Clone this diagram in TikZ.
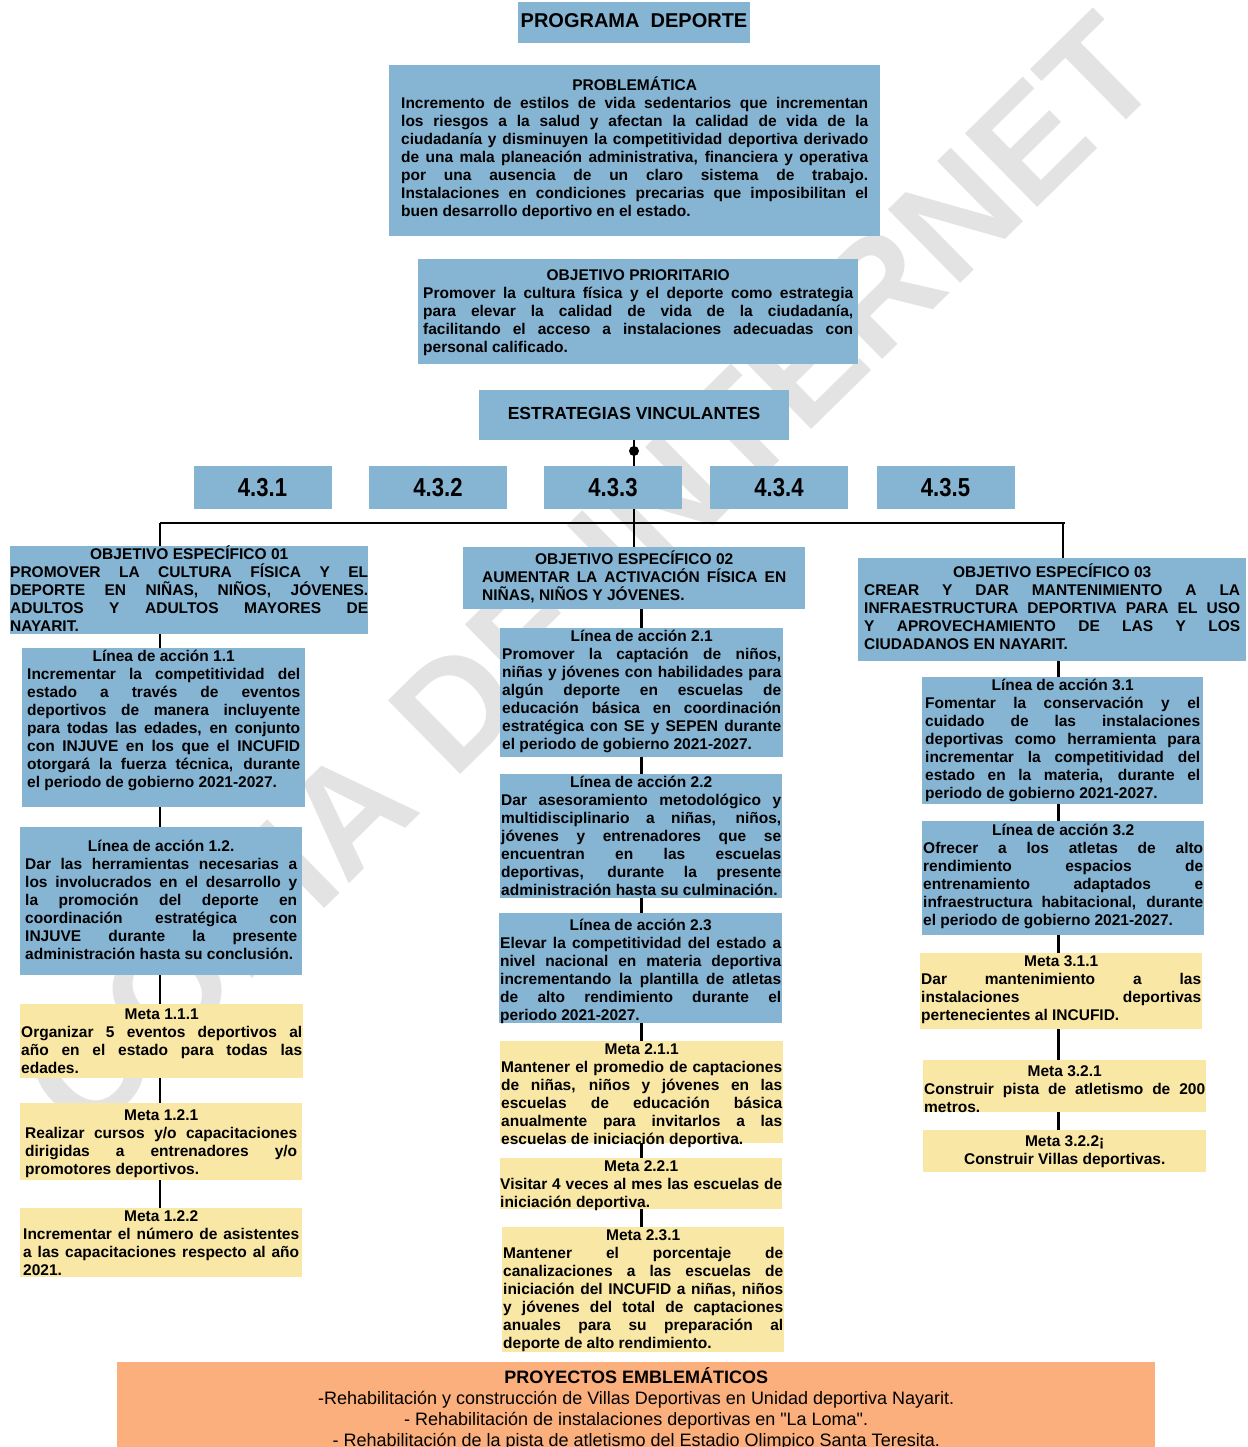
\documentclass[tikz,border=0pt]{standalone}
\usepackage{fontspec}
\setmainfont{Liberation Sans}
\newfontfamily\angosta{Liberation Sans}[FakeStretch=0.85]
\newfontfamily\proyfont{Liberation Sans}[Ligatures=TeXOff]
\usetikzlibrary{positioning}

\definecolor{azulcaja}{RGB}{134,180,211}
\definecolor{amarillocaja}{RGB}{249,231,166}
\definecolor{naranjacaja}{RGB}{250,175,125}

\pgfdeclarelayer{background}
\pgfsetlayers{background,main}
\hbadness=10000

% caja con titulo centrado y texto justificado
\newcommand{\bloque}[5][0pt]{%
  \parbox[c][#3][t]{#2}{\lineskiplimit=-20pt\vspace*{\dimexpr#1+1pt}%
  {\centering\strut #4\par}#5\par}}

\tikzset{
  caja/.style={anchor=north west, inner ysep=0pt, text=black,
    font=\fontsize{15.5}{18}\selectfont\bfseries},
  azul/.style={caja, fill=azulcaja},
  amarilla/.style={caja, fill=amarillocaja},
  titulo/.style={fill=azulcaja, inner sep=0pt, text=black},
  numcaja/.style={fill=azulcaja, inner sep=0pt, minimum width=138pt,
    minimum height=43pt, font=\angosta\bfseries\fontsize{26}{26}\selectfont},
  linea/.style={line width=2.6pt},
  marca/.style={rotate=44.5, text=black!11,
    font=\fontsize{150}{150}\selectfont\bfseries}
}

\begin{document}
\begin{tikzpicture}[x=1pt, y=-1pt]
\useasboundingbox (0,0) rectangle (1247,1447);

% parte superior
\node[titulo, minimum width=232pt, minimum height=41pt,
  font=\fontsize{20}{24}\selectfont\bfseries] (prog) at (634,22.5) {\raisebox{3pt}{PROGRAMA\ \ DEPORTE}};
\node[azul, inner xsep=12pt] (prob) at (389,65) {\bloque[11pt]{467pt}{171pt}{PROBLEMÁTICA}{%
Incremento de estilos de vida sedentarios que incrementan \linebreak
los riesgos a la salud y afectan la calidad de vida de la \linebreak
ciudadanía y disminuyen la competitividad deportiva derivado \linebreak
de una mala planeación administrativa, financiera y operativa \linebreak
por una ausencia de un claro sistema de trabajo. \linebreak
Instalaciones en condiciones precarias que imposibilitan el \linebreak
buen desarrollo deportivo en el estado.}};
\node[azul, inner xsep=5pt] (objp) at (418,259) {\bloque[8pt]{430pt}{105pt}{OBJETIVO PRIORITARIO}{%
Promover la cultura física y el deporte como estrategia \linebreak
para elevar la calidad de vida de la ciudadanía, \linebreak
facilitando el acceso a instalaciones adecuadas con \linebreak
personal calificado.}};
\node[titulo, minimum width=310pt, minimum height=50pt,
  font=\fontsize{17.5}{20}\selectfont\bfseries] (estr) at (634,415) {\raisebox{3pt}{ESTRATEGIAS VINCULANTES}};
\node[circle, fill=black, inner sep=0pt, minimum size=10pt] (punto) at (634,451) {};

% estrategias
\foreach \num/\cx in {1/262.5, 2/438, 3/613, 4/779, 5/945.5}
  \node[numcaja] (e\num) at (\cx,487.5) {4.3.\num};

% objetivos especificos
\node[azul, inner xsep=0pt] (obj1) at (10,546) {\bloque[-1pt]{358pt}{88pt}{OBJETIVO ESPECÍFICO 01}{%
PROMOVER LA CULTURA FÍSICA Y EL \linebreak
DEPORTE EN NIÑAS, NIÑOS, JÓVENES. \linebreak
ADULTOS Y ADULTOS MAYORES DE \linebreak
NAYARIT.}};
\node[azul, inner xsep=19pt] (obj2) at (463,547) {\bloque[3pt]{304pt}{62pt}{OBJETIVO ESPECÍFICO 02}{%
AUMENTAR LA ACTIVACIÓN FÍSICA EN \linebreak
NIÑAS, NIÑOS Y JÓVENES.}};
\node[azul, inner xsep=6pt] (obj3) at (858,558) {\bloque[5pt]{376pt}{103pt}{OBJETIVO ESPECÍFICO 03}{%
CREAR Y DAR MANTENIMIENTO A LA \linebreak
INFRAESTRUCTURA DEPORTIVA PARA EL USO \linebreak
Y APROVECHAMIENTO DE LAS Y LOS \linebreak
CIUDADANOS EN NAYARIT.}};

% columna 1
\node[azul, inner xsep=5pt] (la11) at (22,648) {\bloque{273pt}{159pt}{Línea de acción 1.1}{%
Incrementar la competitividad del \linebreak
estado a través de eventos \linebreak
deportivos de manera incluyente \linebreak
para todas las edades, en conjunto \linebreak
con INJUVE en los que el INCUFID \linebreak
otorgará la fuerza técnica, durante \linebreak
el periodo de gobierno 2021-2027.}};
\node[azul, inner xsep=5pt] (la12) at (20,827) {\bloque[11pt]{272pt}{148pt}{Línea de acción 1.2.}{%
Dar las herramientas necesarias a \linebreak
los involucrados en el desarrollo y \linebreak
la promoción del deporte en \linebreak
coordinación estratégica con \linebreak
INJUVE durante la presente \linebreak
administración hasta su conclusión.}};
\node[amarilla, inner xsep=1pt] (m111) at (20,1004) {\bloque[2pt]{281pt}{74pt}{Meta 1.1.1}{%
Organizar 5 eventos deportivos al \linebreak
año en el estado para todas las \linebreak
edades.}};
\node[amarilla, inner xsep=5pt] (m121) at (20,1103) {\bloque[4pt]{272pt}{77pt}{Meta 1.2.1}{%
Realizar cursos y/o capacitaciones \linebreak
dirigidas a entrenadores y/o \linebreak
promotores deportivos.}};
\node[amarilla, inner xsep=3pt] (m122) at (20,1208) {\bloque{276pt}{69pt}{Meta 1.2.2}{%
Incrementar el número de asistentes \linebreak
a las capacitaciones respecto al año \linebreak
2021.}};

% columna 2
\node[azul, inner xsep=2pt] (la21) at (500,628) {\bloque{279pt}{129pt}{Línea de acción 2.1}{%
Promover la captación de niños, \linebreak
niñas y jóvenes con habilidades para \linebreak
algún deporte en escuelas de \linebreak
educación básica en coordinación \linebreak
estratégica con SE y SEPEN durante \linebreak
el periodo de gobierno 2021-2027.}};
\node[azul, inner xsep=1pt] (la22) at (500,774) {\bloque{280pt}{124pt}{Línea de acción 2.2}{%
Dar asesoramiento metodológico y \linebreak
multidisciplinario a niñas, niños, \linebreak
jóvenes y entrenadores que se \linebreak
encuentran en las escuelas \linebreak
deportivas, durante la presente \linebreak
administración hasta su culminación.}};
\node[azul, inner xsep=1pt] (la23) at (499,913) {\bloque[4pt]{281pt}{110pt}{Línea de acción 2.3}{%
Elevar la competitividad del estado a \linebreak
nivel nacional en materia deportiva \linebreak
incrementando la plantilla de atletas \linebreak
de alto rendimiento durante el \linebreak
periodo 2021-2027.}};
\node[amarilla, inner xsep=1pt] (m211) at (500,1041) {\bloque{281pt}{102pt}{Meta 2.1.1}{%
Mantener el promedio de captaciones \linebreak
de niñas, niños y jóvenes en las \linebreak
escuelas de educación básica \linebreak
anualmente para invitarlos a las \linebreak
escuelas de iniciación deportiva.}};
\node[amarilla, inner xsep=0pt] (m221) at (500,1158) {\bloque{282pt}{51pt}{Meta 2.2.1}{%
Visitar 4 veces al mes las escuelas de \linebreak
iniciación deportiva.}};
\node[amarilla, inner xsep=1pt] (m231) at (502,1227) {\bloque{280pt}{125pt}{Meta 2.3.1}{%
Mantener el porcentaje de \linebreak
canalizaciones a las escuelas de \linebreak
iniciación del INCUFID a niñas, niños \linebreak
y jóvenes del total de captaciones \linebreak
anuales para su preparación al \linebreak
deporte de alto rendimiento.}};

% columna 3
\node[azul, inner xsep=3pt] (la31) at (922,677) {\bloque{275pt}{127pt}{Línea de acción 3.1}{%
Fomentar la conservación y el \linebreak
cuidado de las instalaciones \linebreak
deportivas como herramienta para \linebreak
incrementar la competitividad del \linebreak
estado en la materia, durante el \linebreak
periodo de gobierno 2021-2027.}};
\node[azul, inner xsep=1pt] (la32) at (922,821) {\bloque[1pt]{280pt}{114pt}{Línea de acción 3.2}{%
Ofrecer a los atletas de alto \linebreak
rendimiento espacios de \linebreak
entrenamiento adaptados e \linebreak
infraestructura habitacional, durante \linebreak
el periodo de gobierno 2021-2027.}};
\node[amarilla, inner xsep=1pt] (m311) at (920,953) {\bloque{280pt}{76pt}{Meta 3.1.1}{%
Dar mantenimiento a las \linebreak
instalaciones deportivas \linebreak
pertenecientes al INCUFID.}};
\node[amarilla, inner xsep=1pt] (m321) at (923,1060) {\bloque[3pt]{281pt}{52pt}{Meta 3.2.1}{%
Construir pista de atletismo de 200 \linebreak
metros.}};
\node[amarilla, inner xsep=1pt] (m322) at (923,1130) {\bloque[3pt]{281pt}{42pt}{Meta 3.2.2¡}{%
{\centering Construir Villas deportivas.\par}}};

% proyectos
\node[caja, fill=naranjacaja, inner xsep=0pt, font=\proyfont\fontsize{18}{21}\selectfont] (proy) at (117,1362)
  {\parbox[c][85pt][t]{1038pt}{\centering\vspace*{5pt}\strut\textbf{PROYECTOS EMBLEMÁTICOS}\\
  -Rehabilitación y construcción de Villas Deportivas en Unidad deportiva Nayarit.\\
  - Rehabilitación de instalaciones deportivas en "La Loma".\\
  - Rehabilitación de la pista de atletismo del Estadio Olimpico Santa Teresita.}};

\begin{pgfonlayer}{background}
\node[marca] (marcaagua) at (590,575) {COPIA DE INTERNET};
\coordinate (barI) at (160,523);
\coordinate (barD) at (1065,523);
\draw[linea] (barI) -- (barD);
\draw[linea] (estr.south) -- (estr.south |- obj2.north);
\draw[linea] (barI) -- (barI |- m122.north);
\draw[linea] ([xshift=-2pt]barD) -- ([xshift=-2pt]barD |- obj3.north);
\draw[linea] (la21.north |- obj2.south) -- (la21.north |- m231.north);
\draw[linea] ([xshift=-3pt]m311.north |- obj3.south) -- ([xshift=-3pt]m311.north |- m322.north);
\end{pgfonlayer}
\end{tikzpicture}
\end{document}
